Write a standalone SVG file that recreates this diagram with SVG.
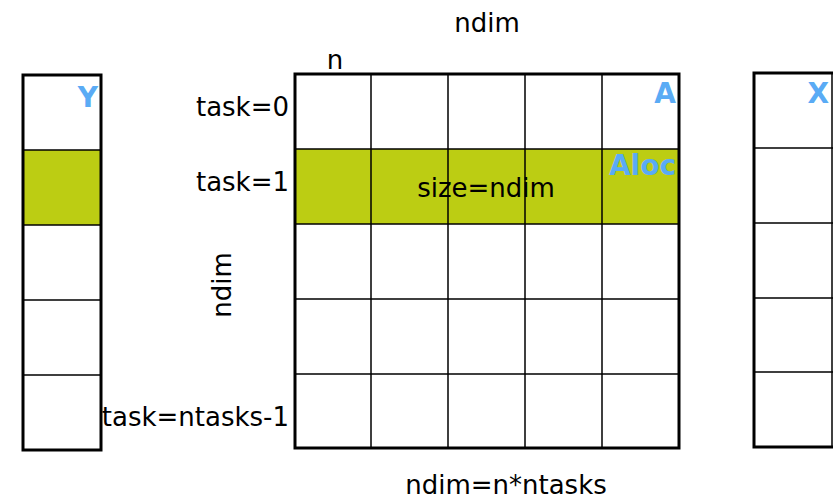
<svg xmlns="http://www.w3.org/2000/svg" width="834" height="501" viewBox="0 0 834 501">
<style>
.t{font-family:"DejaVu Sans","Liberation Sans",sans-serif;font-size:26px;fill:#000}
.b{font-family:"DejaVu Sans","Liberation Sans",sans-serif;font-size:28px;font-weight:bold;fill:#5aabf5}
.g{stroke:#000;stroke-width:1.5;fill:none}
.o{stroke:#000;stroke-width:3;fill:none}
.hl{fill:#bccd13}
</style>
<rect width="834" height="501" fill="#fff"/>
<g id="Y">
<rect class="hl" x="23" y="150" width="78" height="75"/>
<path class="g" d="M23 150H101M23 225H101M23 300H101M23 375H101"/>
<rect class="o" x="23" y="75" width="78" height="375"/>
<text class="b" x="98" y="107" text-anchor="end">Y</text>
</g>
<g id="A">
<rect class="hl" x="295" y="149" width="384" height="75"/>
<path class="g" d="M371 74V448M448 74V448M525 74V448M602 74V448M295 149H679M295 224H679M295 299H679M295 374H679"/>
<rect class="o" x="295" y="74" width="384" height="374"/>
<text class="b" x="676" y="103" text-anchor="end">A</text>
<text class="b" x="676" y="175" text-anchor="end">Aloc</text>
<text class="t" x="486" y="197" text-anchor="middle">size=ndim</text>
</g>
<g id="X">
<path class="g" d="M753 148H833M753 223H833M753 298H833M753 372H833"/>
<path class="g" stroke="#555" d="M832 73V447"/>
<path class="o" d="M833 73H754V447H833"/>
<text class="b" x="829" y="103" text-anchor="end">X</text>
</g>
<g id="labels">
<text class="t" x="487" y="32" text-anchor="middle">ndim</text>
<text class="t" x="335" y="69" text-anchor="middle">n</text>
<text class="t" x="289" y="116" text-anchor="end">task=0</text>
<text class="t" x="289" y="191" text-anchor="end">task=1</text>
<text class="t" x="289" y="426" text-anchor="end">task=ntasks-1</text>
<text class="t" x="0" y="0" text-anchor="middle" transform="translate(231 285) rotate(-90)">ndim</text>
<text class="t" x="506" y="494" text-anchor="middle">ndim=n*ntasks</text>
</g>
</svg>
